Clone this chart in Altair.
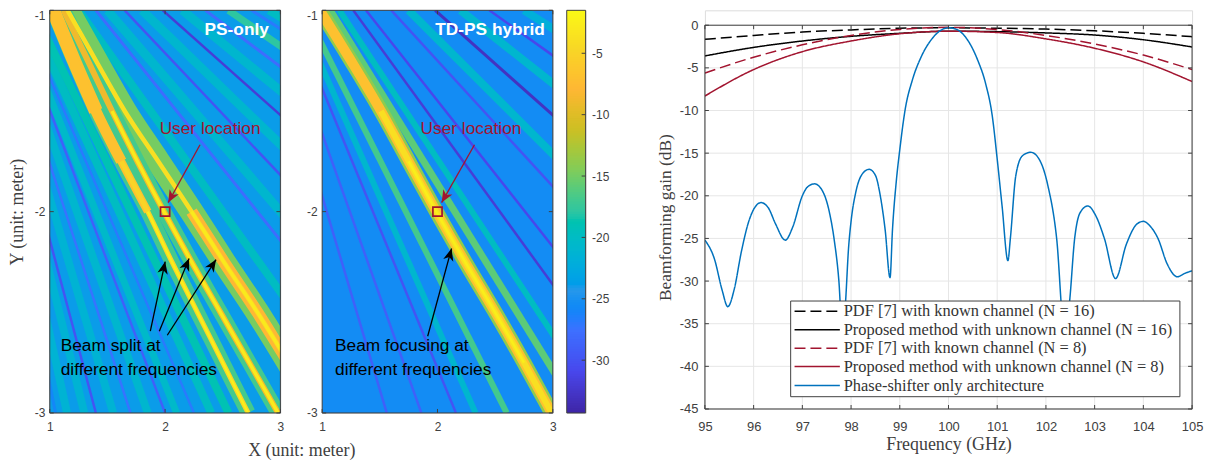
import altair as alt
import numpy as np
import pandas as pd

SANS = "Liberation Sans"
SERIF = "Liberation Serif"
DARK = "#404040"
RED = "#A2142F"
BLUE = "#0072BD"

# ---------- colour map ----------
parula = ["#3e26a8", "#4847ec", "#3e6fff", "#2797eb", "#08b5d0", "#31c69f",
          "#81cc59", "#ccbf24", "#feb734", "#f8d626", "#f9fb15"]
vmin, vmax = -34.3, -1.5
cdomain = [float(v) for v in np.linspace(vmin, vmax, len(parula))]
cscale = alt.Scale(domain=cdomain, range=parula, clamp=True)

# ---------- heat-map side lobes: x read at y = -1 and y = -3 ----------
p1_top = [0.35, 0.38, 0.43, 0.47, 0.52, 0.57, 0.62, 0.67, 0.70, 0.75, 0.80, 0.86,
          1.25, 1.40, 1.50, 1.65, 1.80, 1.98, 2.15, 2.35, 2.55, 2.75, 2.90]
p1_bot = [1.05, 1.15, 1.30, 1.40, 1.55, 1.70, 1.85, 2.00, 2.10, 2.25, 2.40, 2.55,
          3.75, 4.20, 4.50, 4.95, 5.40, 5.90, 6.40, 7.00, 7.60, 8.20, 8.70]
p1_val = [-26, -21.5, -21.5, -30, -21.5, -27.5, -21, -29, -20.5, -27, -20, -19,
          -20, -28, -21, -30, -21, -32, -21, -28, -18, -27, -20]
p1_wid = [3, 8, 8, 2.5, 8, 2.5, 8, 2.5, 7, 2.5, 8, 8,
          8, 3, 9, 2.5, 9, 2.5, 9, 3, 7, 3, 8]

p2_top = [0.52, 0.62, 0.72, 0.78, 0.85, 1.07, 1.15, 1.27, 1.38, 1.60, 1.75, 1.98, 2.20, 2.45, 2.75]
p2_bot = [1.56, 1.86, 2.16, 2.33, 2.60, 3.23, 3.45, 3.81, 4.14, 4.80, 5.25, 5.90, 6.60, 7.35, 8.25]
p2_val = [-29, -29, -30, -21, -17, -16, -20, -32, -31, -30, -21, -33, -21, -31, -22]
p2_wid = [2.5, 2.5, 2.5, 6, 6, 7, 6, 2.5, 2.5, 2.5, 8, 3, 8, 2.5, 8]

# ---------- main beams: x read at y = -1, -1.25, ... -3 ----------
levels = [-1.0, -1.25, -1.5, -1.75, -2.0, -2.25, -2.5, -2.75, -3.0]
p1_l = [1.03, 1.21, 1.40, 1.62, 1.85, 2.06, 2.28, 2.50, 2.72]
p1_m = [1.12, 1.33, 1.54, 1.76, 1.99, 2.23, 2.48, 2.73, 2.98]
p1_r = [1.155, 1.40, 1.65, 1.94, 2.23, 2.51, 2.80, 3.07, 3.33]
p2_c = [0.98, 1.25, 1.51, 1.75, 1.99, 2.24, 2.50, 2.75, 2.99]

# ---------- beamforming gain curves ----------
freq = [95, 96, 97, 98, 99, 100, 101, 102, 103, 104, 105]
pdf16 = [-1.65, -1.2, -0.8, -0.55, -0.35, -0.3, -0.35, -0.45, -0.65, -0.95, -1.35]
prop16 = [-3.6, -2.6, -1.85, -1.3, -0.95, -0.7, -0.75, -0.9, -1.15, -1.7, -2.55]
pdf8 = [-5.6, -3.75, -2.3, -1.2, -0.5, -0.25, -0.5, -1.2, -2.2, -3.5, -5.2]
prop8 = [-8.3, -5.2, -3.1, -1.85, -1.0, -0.7, -0.85, -1.6, -2.7, -4.3, -6.6]
ps_f = [95, 95.2, 95.35, 95.47, 95.6, 95.75, 95.9, 96.0, 96.15, 96.3, 96.45, 96.65, 96.8, 97.0, 97.1,
        97.25, 97.4, 97.55, 97.65, 97.75, 97.82, 97.88, 97.95, 98.0, 98.1, 98.25, 98.37, 98.5, 98.6, 98.7,
        98.8, 98.85, 98.93, 99.0, 99.11, 99.26, 99.44, 99.66, 99.84, 100, 100.17, 100.4, 100.6, 100.76,
        100.9, 101.0, 101.1, 101.22, 101.27, 101.38, 101.52, 101.69, 101.86, 102.04, 102.22, 102.38,
        102.48, 102.59, 102.7, 102.86, 103.02, 103.2, 103.43, 103.65, 103.87, 104, 104.13, 104.3, 104.49,
        104.7, 104.85, 105]
ps_g = [-25.2, -27.5, -31, -33, -31, -26.5, -23, -21.6, -20.8, -21.4, -23.3, -25.2, -23.7, -20, -19,
        -18.6, -19.3, -21.8, -25, -30, -36, -33, -26, -23, -19.5, -17.3, -16.9, -17.6, -20, -24,
        -29.6, -24, -18.2, -14.6, -9.9, -6.4, -3.7, -1.6, -0.6, -0.3, -0.5, -1.8, -4.1, -6.8,
        -10.7, -15.7, -21.2, -27.6, -25, -17.7, -15.3, -14.9, -15.7, -18.8, -25, -36,
        -32.7, -25, -22, -21.2, -22.3, -25, -29.7, -25.7, -23.3, -23, -23.5, -25, -28,
        -29.5, -29.1, -28.8]
names = ["PDF [7] with known channel (N = 16)", "Proposed method with unknown channel (N = 16)",
         "PDF [7] with known channel (N = 8)", "Proposed method with unknown channel (N = 8)",
         "Phase-shifter only architecture"]
line_colors = ["#000000", "#000000", RED, RED, BLUE]
line_dashes = [[11, 5], [1, 0], [11, 5], [1, 0], [1, 0]]
# legend box and rows, in the chart's own axis units
leg_box = [96.76, 104.75, -32.34, -43.56]
leg_rows = [-33.54, -35.7, -37.87, -40.03, -42.25]
leg_sym = [96.84, 97.77]
leg_txt = 97.85

xticks = [1, 2, 3]
yticks = [-1, -2, -3]
W, H = 232, 405

HX = alt.Scale(domain=[1, 3], nice=False)
HY = alt.Scale(domain=[-3, -1], nice=False)


def stripe_rows(top, bot, val, wid, start):
    rows = []
    for i, (a, b, v, w) in enumerate(zip(top, bot, val, wid)):
        rows.append(dict(id=start + i, x=a, y=-1.0, v=v, w=w))
        rows.append(dict(id=start + i, x=b, y=-3.0, v=v, w=w))
    return rows


def beam_rows(xs, ya, yb, v, w, i):
    return [dict(id=i, x=a, y=b, v=v, w=w) for a, b in zip(xs, levels) if yb <= b <= ya]


p1_rows = stripe_rows(p1_top, p1_bot, p1_val, p1_wid, 0)
p1_rows += beam_rows(p1_r, -1, -3, -15, 24, 100) + beam_rows(p1_m, -1, -3, -17, 15, 101) + beam_rows(p1_l, -1, -3, -17, 15, 102)
p1_rows += beam_rows(p1_r, -2, -3, -8, 12, 103) + beam_rows(p1_l, -1, -1.5, -7, 14, 104)
p1_rows += beam_rows(p1_l, -1, -1.75, -7, 11, 111) + beam_rows(p1_l, -1, -2, -7, 8, 112)
p1_rows += beam_rows(p1_m, -1, -3, -9, 6, 105) + beam_rows(p1_r, -1, -3, -4, 4.5, 106)
p1_rows += beam_rows(p1_l, -1.75, -3, -5, 5, 107) + beam_rows(p1_m, -1.5, -3, -3, 3.5, 108)
p1_rows += beam_rows(p1_l, -2, -3, -2.5, 2.5, 109) + beam_rows(p1_r, -2, -3, -3, 3, 110)

p2_rows = stripe_rows(p2_top, p2_bot, p2_val, p2_wid, 0)
p2_rows += beam_rows(p2_c, -1, -3, -14, 15, 100) + beam_rows(p2_c, -1, -3, -7, 10, 101)
p2_rows += beam_rows(p2_c, -1.5, -3, -4, 6, 102) + beam_rows(p2_c, -1.75, -2.75, -2.5, 2.5, 103)


def ticks_layer(values_x, values_y, width, top, bottom, xs, ys):
    yt = alt.Chart(pd.DataFrame({"t": values_y})).mark_rule(color=DARK, strokeWidth=1)
    xt = alt.Chart(pd.DataFrame({"t": values_x})).mark_rule(color=DARK, strokeWidth=1)
    return [
        yt.encode(x=alt.value(0), x2=alt.value(4), y=alt.Y("t:Q", scale=ys)),
        yt.encode(x=alt.value(width - 4), x2=alt.value(width), y=alt.Y("t:Q", scale=ys)),
        xt.encode(y=alt.value(top), y2=alt.value(top + 4), x=alt.X("t:Q", scale=xs)),
        xt.encode(y=alt.value(bottom - 4), y2=alt.value(bottom), x=alt.X("t:Q", scale=xs)),
    ]


def frame(width, top, bottom):
    return alt.Chart(pd.DataFrame({"a": [0]})).mark_rect(fill=None, stroke=DARK, strokeWidth=1).encode(
        x=alt.value(0), x2=alt.value(width), y=alt.value(top), y2=alt.value(bottom))


HEAD = "M0,0 L0.42,1 L0,0.72 L-0.42,1 Z"


def arrow(x0, y0, x1, y1, angle, color):
    d = pd.DataFrame({"x": [x0], "y": [y0], "x2": [x1], "y2": [y1], "a": [angle]})
    shaft = alt.Chart(d).mark_rule(color=color, strokeWidth=1.3).encode(
        x=alt.X("x:Q", scale=HX), y=alt.Y("y:Q", scale=HY), x2="x2:Q", y2="y2:Q")
    head = alt.Chart(d).mark_point(shape=HEAD, filled=True, color=color, opacity=1, size=620, strokeWidth=0).encode(
        x=alt.X("x2:Q", scale=HX), y=alt.Y("y2:Q", scale=HY), angle=alt.Angle("a:Q", scale=None))
    return [shaft, head]


def label(x, y, s, color="black", size=17.4, bold=False, align="left"):
    d = pd.DataFrame({"x": [x], "y": [y], "s": [s]})
    return alt.Chart(d).mark_text(font=SANS, fontSize=size, color=color, align=align,
                                  fontWeight="bold" if bold else "normal", baseline="middle").encode(
        x=alt.X("x:Q", scale=HX), y=alt.Y("y:Q", scale=HY), text="s:N")


def heat(rows, bg, texts, arrows, xaxis, yaxis):
    base = alt.Chart(pd.DataFrame({"x": [1.0], "x2": [3.0], "y": [-1.0], "y2": [-3.0], "v": [bg]}))
    back = base.mark_rect().encode(
        x=alt.X("x:Q", scale=HX, axis=xaxis), x2="x2:Q",
        y=alt.Y("y:Q", scale=HY, axis=yaxis), y2="y2:Q",
        color=alt.Color("v:Q", scale=cscale, legend=None))
    stripes = alt.Chart(pd.DataFrame(rows)).mark_line(clip=True, strokeCap="butt", interpolate="monotone").encode(
        x=alt.X("x:Q", scale=HX), y=alt.Y("y:Q", scale=HY, sort=None), detail="id:N", order="y:Q",
        color=alt.Color("v:Q", scale=cscale, legend=None),
        size=alt.Size("w:Q", scale=None, legend=None))
    user = alt.Chart(pd.DataFrame({"x": [2.0], "y": [-2.0]})).mark_square(
        size=85, filled=False, color=RED, strokeWidth=1.7, opacity=1).encode(
        x=alt.X("x:Q", scale=HX), y=alt.Y("y:Q", scale=HY))
    layers = [back, stripes] + ticks_layer(xticks, yticks, W, 0, H, HX, HY) + [frame(W, 0, H), user] + arrows + texts
    return alt.layer(*layers).resolve_scale(color="shared").properties(width=W, height=H)


def yaxis(title):
    kw = dict(values=yticks, labelExpr="''+datum.value", ticks=False, domain=False, grid=False,
              labelFont=SANS, labelFontSize=12, labelColor=DARK, labelPadding=5, labelFlush=False,
              labelBaseline=alt.expr("datum.value==-1?'top':'middle'"), labelOverlap=False)
    if title:
        return alt.Axis(title=title, titleFont=SERIF, titleFontSize=18, titleFontWeight="normal",
                        titleColor=DARK, titleX=-23, titleY=H / 2, **kw)
    return alt.Axis(title="", **kw)


def xaxis(title):
    kw = dict(values=xticks, labelExpr="''+datum.value", ticks=False, domain=False, grid=False,
              labelFont=SANS, labelFontSize=12, labelColor=DARK, labelPadding=9, labelFlush=False)
    if title:
        return alt.Axis(title=title, titleFont=SERIF, titleFontSize=18, titleFontWeight="normal",
                        titleColor=DARK, titleX=253, titleY=29, **kw)
    return alt.Axis(title="", **kw)


p1 = heat(
    p1_rows, -24,
    [label(2.9, -1.099, "PS-only", "white", 17.4, True, "right"),
     label(2.39, -1.589, "User location", RED, 17.4, False, "center"),
     label(1.095, -2.668, "Beam split at"), label(1.095, -2.787, "different frequencies")],
    arrow(1.872, -2.594, 2.001, -2.248, 12.1, "black") + arrow(1.95, -2.594, 2.208, -2.233, 22.3, "black")
    + arrow(2.019, -2.614, 2.442, -2.238, 32.8, "black") + arrow(2.303, -1.668, 2.027, -1.955, 208.9, RED),
    xaxis("X (unit: meter)"), yaxis("Y (unit: meter)"))

p2 = heat(
    p2_rows, -25.5,
    [label(2.93, -1.099, "TD-PS hybrid", "white", 17.4, True, "right"),
     label(2.29, -1.589, "User location", RED, 17.4, False, "center"),
     label(1.112, -2.668, "Beam focusing at"), label(1.112, -2.787, "different frequencies")],
    arrow(1.915, -2.619, 2.122, -2.183, 15.3, "black") + arrow(2.321, -1.668, 2.036, -1.955, 210, RED),
    xaxis(None), yaxis(None))

# ---------- colour bar ----------
ramp = np.linspace(vmin, vmax, 165)
step = float(ramp[1] - ramp[0])
cb_df = pd.DataFrame({"v": ramp, "v2": ramp + 2 * step})
CBY = alt.Scale(domain=[vmin, vmax], nice=False)
cb_ticks = [-5, -10, -15, -20, -25, -30]
cbar = alt.layer(
    alt.Chart(cb_df).mark_rect(clip=True).encode(
        x=alt.value(0), x2=alt.value(19),
        y=alt.Y("v:Q", scale=CBY, axis=alt.Axis(orient="right", values=cb_ticks, title="", grid=False,
                                                ticks=False, domain=False, labelExpr="''+datum.value",
                                                labelFont=SANS, labelFontSize=12, labelColor=DARK,
                                                labelPadding=6)),
        y2="v2:Q", color=alt.Color("v:Q", scale=cscale, legend=None)),
    alt.Chart(pd.DataFrame({"t": cb_ticks})).mark_rule(color=DARK).encode(
        x=alt.value(15), x2=alt.value(19), y=alt.Y("t:Q", scale=CBY)),
    frame(19, 0, H),
).properties(width=19, height=H)

# ---------- line chart ----------
LW, LT, LB = 490, 15, 401
LX = alt.Scale(domain=[95, 105], nice=False)
LY = alt.Scale(domain=[-45, 0], range=[LB, LT], nice=False)
fvals = list(range(95, 106))
gvals = list(range(-45, 1, 5))
rows = []
for n, ys in zip(names[:4], [pdf16, prop16, pdf8, prop8]):
    rows += [dict(f=a, g=b, s=n) for a, b in zip(freq, ys)]
rows += [dict(f=a, g=b, s=names[4]) for a, b in zip(ps_f, ps_g)]
ldf = pd.DataFrame(rows)

gx = alt.Chart(pd.DataFrame({"t": fvals})).mark_rule(color="#e6e6e6", strokeWidth=1).encode(
    x=alt.X("t:Q", scale=LX, axis=alt.Axis(
        values=fvals, title="Frequency (GHz)", titleFont=SERIF, titleFontSize=18, titleFontWeight="normal",
        titleColor=DARK, titlePadding=2, labelFont=SANS, labelFontSize=13, labelColor=DARK, labelPadding=12,
        ticks=False, domain=False, grid=False, labelFlush=False)),
    y=alt.value(LT), y2=alt.value(LB))
gy = alt.Chart(pd.DataFrame({"t": gvals})).mark_rule(color="#e6e6e6", strokeWidth=1).encode(
    y=alt.Y("t:Q", scale=LY, axis=alt.Axis(
        values=gvals, title="Beamforming gain (dB)", titleFont=SERIF, titleFontSize=17.5, titleFontWeight="normal",
        titleColor=DARK, titlePadding=5, labelFont=SANS, labelFontSize=13, labelColor=DARK, labelPadding=7,
        ticks=False, domain=False, grid=False, labelExpr="''+datum.value", labelFlush=False)),
    x=alt.value(0), x2=alt.value(LW))

lines = alt.Chart(ldf).mark_line(strokeWidth=1.5, interpolate="monotone", clip=True).encode(
    x=alt.X("f:Q", scale=LX), y=alt.Y("g:Q", scale=LY),
    color=alt.Color("s:N", sort=names, scale=alt.Scale(domain=names, range=line_colors), legend=None),
    strokeDash=alt.StrokeDash("s:N", sort=names, scale=alt.Scale(domain=names, range=line_dashes), legend=None),
    detail="s:N", order="f:Q")

leg_back = alt.Chart(pd.DataFrame({"a": [leg_box[0]], "b": [leg_box[1]], "c": [leg_box[2]], "d": [leg_box[3]]})).mark_rect(
    fill="white", stroke=DARK, strokeWidth=1).encode(
    x=alt.X("a:Q", scale=LX), x2="b:Q", y=alt.Y("c:Q", scale=LY), y2="d:Q")
leg_df = pd.DataFrame({"s": names, "y": leg_rows, "a": leg_sym[0], "b": leg_sym[1], "t": leg_txt})
leg_syms = alt.Chart(leg_df).mark_rule(strokeWidth=1.5).encode(
    x=alt.X("a:Q", scale=LX), x2="b:Q", y=alt.Y("y:Q", scale=LY),
    color=alt.Color("s:N", sort=names, scale=alt.Scale(domain=names, range=line_colors), legend=None),
    strokeDash=alt.StrokeDash("s:N", sort=names, scale=alt.Scale(domain=names, range=line_dashes), legend=None))
leg_text = alt.Chart(leg_df).mark_text(font=SERIF, fontSize=16.5, color="#333333", align="left", baseline="middle").encode(
    x=alt.X("t:Q", scale=LX), y=alt.Y("y:Q", scale=LY), text="s:N")

line_panel = alt.layer(
    gx, gy, lines, *ticks_layer(fvals, gvals, LW, LT, LB, LX, LY), frame(LW, LT, LB), leg_back, leg_syms, leg_text
).properties(width=LW, height=LB)


def gap(w):
    return alt.Chart(pd.DataFrame({"a": [0]})).mark_point(opacity=0, size=1).encode(
        x=alt.value(5), y=alt.value(5)).properties(width=w, height=10, view=alt.ViewConfig(stroke="transparent"))


chart = alt.hconcat(p1, gap(42), p2, gap(14), cbar, gap(120), line_panel, spacing=0, bounds="flush").resolve_scale(
    color="independent", strokeDash="independent"
).properties(
    padding={"left": 0, "top": -1, "right": 0, "bottom": 0}
).configure_view(stroke="transparent").configure(background="white")

chart.save("out.html", embed_options={"renderer": "svg", "actions": False})
